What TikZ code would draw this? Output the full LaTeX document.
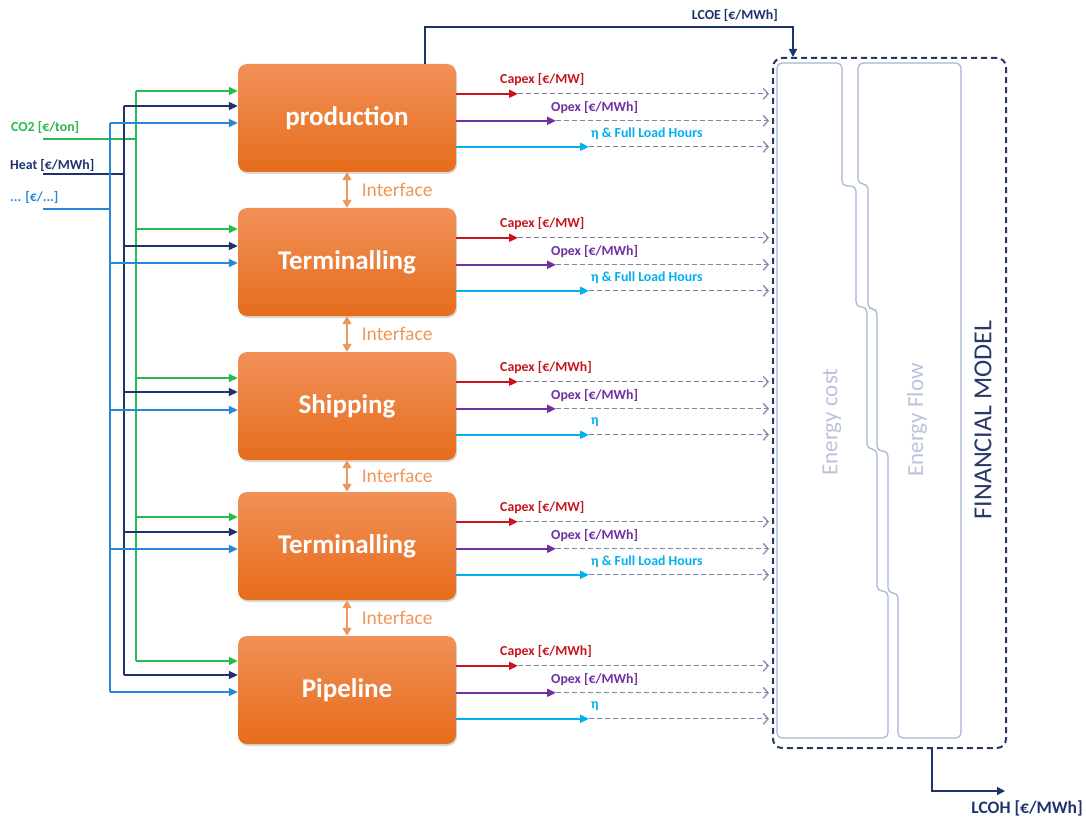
\documentclass[tikz,border=0pt]{standalone}
\usepackage{fontspec}
\setmainfont{Carlito}
\usetikzlibrary{arrows.meta,shadows,calc}
\definecolor{cgreen}{RGB}{40,185,80}
\definecolor{cnavy}{RGB}{30,50,110}
\definecolor{cblue}{RGB}{40,135,215}
\definecolor{cred}{RGB}{200,20,30}
\definecolor{cpurple}{RGB}{112,48,160}
\definecolor{ccyan}{RGB}{0,176,240}
\definecolor{cdash}{RGB}{125,135,165}
\definecolor{cfin}{RGB}{40,55,100}
\definecolor{ccol}{RGB}{165,180,210}
\definecolor{ctxt}{RGB}{185,195,218}
\definecolor{otop}{RGB}{241,145,88}
\definecolor{obot}{RGB}{230,108,28}
\definecolor{cinter}{RGB}{240,150,90}
\begin{document}
\begin{tikzpicture}[x=1pt,y=-1pt,
  stage/.style={rounded corners=9pt, top color=otop, bottom color=obot, draw=none,
    minimum width=218pt, minimum height=108pt, inner sep=0pt, text=white,
    font=\fontsize{27}{30}\selectfont\bfseries,
    drop shadow={opacity=0.3, shadow xshift=1pt, shadow yshift=-2pt}},
  feed/.style={line width=1.8pt},
  feedarrow/.style={line width=1.8pt, -{Triangle[length=9pt,width=8pt]}},
  outarrow/.style={line width=1.8pt, -{Triangle[length=9pt,width=8pt]}},
  outdash/.style={cdash, line width=1.2pt, dash pattern=on 5pt off 3pt,
    -{Straight Barb[length=5pt,width=11pt,line width=1.2pt]}},
  lab/.style={font=\fontsize{13.8}{16}\selectfont\bfseries, inner sep=0pt, anchor=west},
  interarrow/.style={cinter, line width=1.6pt, {Triangle[length=8pt,width=9pt]}-{Triangle[length=8pt,width=9pt]}},
  interlab/.style={cinter, font=\fontsize{19.5}{22}\selectfont, inner sep=0pt, anchor=west},
  finbox/.style={draw=cfin, line width=2pt, dash pattern=on 6pt off 4pt, rounded corners=9pt,
    minimum width=233pt, minimum height=690pt, inner sep=0pt},
  colline/.style={draw=ccol, line width=1.2pt, rounded corners=5pt},
  coltext/.style={ctxt, font=\fontsize{23}{26}\selectfont, rotate=90, inner sep=0pt},
  navyline/.style={cnavy, line width=1.6pt}
]
\useasboundingbox (0,0) rectangle (1086,818);

% stages
\node[stage] (prod) at (347,118) {production};
\node[stage] (term1) at (347,262) {Terminalling};
\node[stage] (ship) at (347,406) {Shipping};
\node[stage] (term2) at (347,546) {Terminalling};
\node[stage] (pipe) at (347,690) {Pipeline};

% input labels and feed lines
\node[lab, cgreen] (lco2) at (11,127) {CO2 [€/ton]};
\node[lab, cnavy] (lheat) at (10,165) {Heat [€/MWh]};
\node[lab, cblue] (ldots) at (10,197) {... [€/...]};
\coordinate (g0) at (43,139); \coordinate (gb) at (136,139);
\coordinate (n0) at (43,174); \coordinate (nb) at (124,174);
\coordinate (b0) at (43,209); \coordinate (bb) at (110,209);
\draw[feed, cgreen] (g0) -- (gb);
\draw[feed, cnavy] (n0) -- (nb);
\draw[feed, cblue] (b0) -- (bb);
\draw[feed, cgreen] (136,91) -- (136,661);
\draw[feed, cnavy] (124,106) -- (124,675);
\draw[feed, cblue] (110,123) -- (110,692);

\foreach \b/\ga/\na/\ba in {prod/91/106/123, term1/229/246/263, ship/378/392/410, term2/517/532/549, pipe/661/675/692}{
  \draw[feedarrow, cgreen] (136,\ga) -- (\b.west |- 0,\ga);
  \draw[feedarrow, cnavy] (124,\na) -- (\b.west |- 0,\na);
  \draw[feedarrow, cblue] (110,\ba) -- (\b.west |- 0,\ba);
}

% outputs
\foreach \b/\c/\e in {prod/{Capex [€/MW]}/{η \& Full Load Hours}, term1/{Capex [€/MW]}/{η \& Full Load Hours}, ship/{Capex [€/MWh]}/{η}, term2/{Capex [€/MW]}/{η \& Full Load Hours}, pipe/{Capex [€/MWh]}/{η}}{
  \coordinate (\b r0) at ($(\b.north east)+(0,30)$);
  \coordinate (\b p0) at ($(\b.north east)+(0,57)$);
  \coordinate (\b c0) at ($(\b.north east)+(0,83)$);
  \coordinate (\b r1) at (\b r0 -| 518,0);
  \coordinate (\b p1) at (\b p0 -| 556,0);
  \coordinate (\b c1) at (\b c0 -| 589,0);
  \coordinate (\b r2) at (\b r0 -| 769,0);
  \coordinate (\b p2) at (\b p0 -| 769,0);
  \coordinate (\b c2) at (\b c0 -| 769,0);
  \draw[outarrow, cred] (\b r0) -- (\b r1);
  \draw[outarrow, cpurple] (\b p0) -- (\b p1);
  \draw[outarrow, ccyan] (\b c0) -- (\b c1);
  \draw[outdash] (\b r1) -- (\b r2);
  \draw[outdash] (\b p1) -- (\b p2);
  \draw[outdash] (\b c1) -- (\b c2);
  \node[lab, cred] at ($(\b r0 -| 500,0)+(0,-14)$) {\c};
  \node[lab, cpurple] at ($(\b p0 -| 551,0)+(0,-13)$) {Opex [€/MWh]};
  \node[lab, ccyan] at ($(\b c0 -| 591,0)+(0,-13)$) {\e};
}

% interfaces
\foreach \a/\bb in {prod/term1, term1/ship, ship/term2, term2/pipe}{
  \draw[interarrow] (\a.south) -- (\bb.north) node[interlab, midway, xshift=14pt] {Interface};
}

% financial model
\node[finbox] (fin) at (889.5,403) {};
\path[colline] (777,738) -- (777,63) -- (842,63) -- (842,186) -- (856,186) -- (856,307) -- (867,307) -- (867,449) -- (877,449) -- (877,591) -- (888,591) -- (888,738) -- cycle;
\path[colline] (858,63) -- (961,63) -- (961,738) -- (898,738) -- (898,593) -- (888,593) -- (888,451) -- (877,451) -- (877,309) -- (868,309) -- (868,184) -- (858,184) -- cycle;
\node[coltext] (ecost) at (832,422) {Energy cost};
\node[coltext] (eflow) at (917,420) {Energy Flow};
\node[cfin, font=\fontsize{26}{30}\selectfont, rotate=90, inner sep=0pt] (fmodel) at (983,420) {FINANCIAL MODEL};

% LCOE
\coordinate (lcoeA) at (425,27);
\coordinate (lcoeB) at (793,27);
\draw[navyline, -{Triangle[length=8pt,width=8pt]}] (prod.north -| lcoeA) -- (lcoeA) -- (lcoeB) -- (fin.north -| lcoeB);
\node[lab, cnavy, anchor=east] (lcoe) at (778,15) {LCOE [€/MWh]};

% LCOH
\coordinate (lcohA) at (932,791);
\coordinate (lcohB) at (1005,791);
\draw[navyline, -{Triangle[length=8pt,width=8pt]}] (fin.south -| lcohA) -- (lcohA) -- (lcohB);
\node[cnavy, font=\fontsize{17.5}{20}\selectfont\bfseries, inner sep=0pt, anchor=east] (lcoh) at (1083,808) {LCOH [€/MWh]};
\end{tikzpicture}
\end{document}
